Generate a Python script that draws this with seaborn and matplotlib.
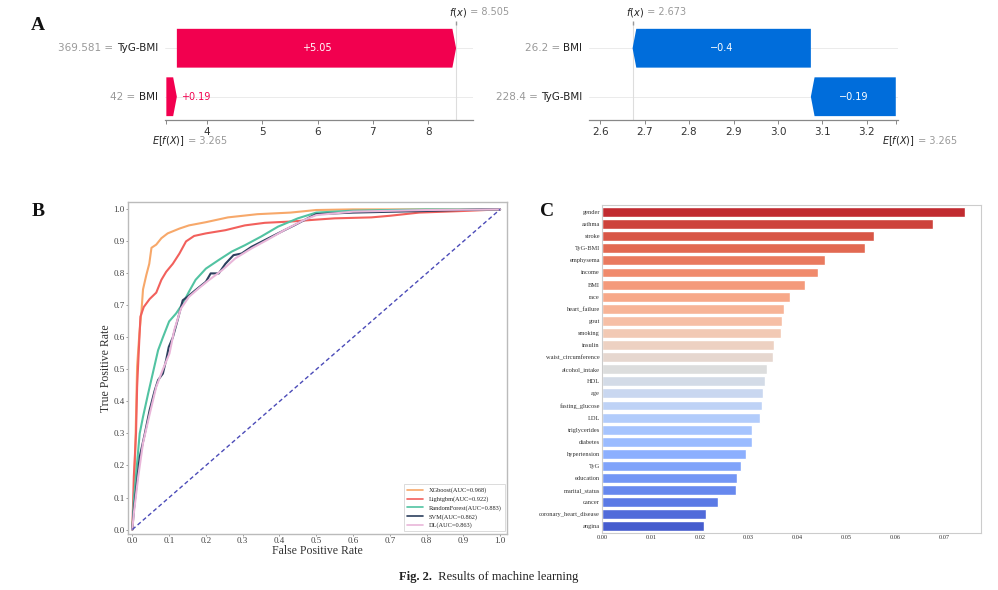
import matplotlib
matplotlib.use("Agg")
import matplotlib.pyplot as plt
from matplotlib.patches import Polygon
from matplotlib.ticker import FormatStrFormatter
import numpy as np
import pandas as pd
import seaborn as sns

sns.set_theme(style="white")
plt.rcParams['font.family'] = ['DejaVu Sans']
SERIF = 'Liberation Serif'

# ─── DATA ────────────────────────────────────────────────────────────────
# Panel A, left waterfall (rows top -> bottom)
A1_FEATURES = ["TyG-BMI", "BMI"]
A1_VALUES = ["369.581", "42"]
A1_SHAP = [5.05, 0.19]
A1_BASE = 3.265
A1_FX = 8.505
A1_TICKS = [4, 5, 6, 7, 8]

# Panel A, right waterfall
A2_FEATURES = ["BMI", "TyG-BMI"]
A2_VALUES = ["26.2", "228.4"]
A2_SHAP = [-0.401, -0.191]
A2_BASE = 3.265
A2_FX = 2.673
A2_TICKS = [2.6, 2.7, 2.8, 2.9, 3.0, 3.1, 3.2]

# Panel B, ROC curves
MODELS = ["XGboost(AUC=0.968)", "Lightgbm(AUC=0.922)", "RandomForest(AUC=0.883)",
          "SVM(AUC=0.862)", "DL(AUC=0.863)"]
XGB_FPR = [0, 0.004, 0.009, 0.013, 0.019, 0.025, 0.029, 0.038, 0.046, 0.052, 0.065, 0.079,
           0.096, 0.128, 0.154, 0.20, 0.26, 0.34, 0.43, 0.50, 0.60, 0.80, 1.0]
XGB_TPR = [0, 0.09, 0.30, 0.51, 0.61, 0.685, 0.75, 0.795, 0.83, 0.88, 0.89, 0.91,
           0.925, 0.94, 0.95, 0.96, 0.975, 0.985, 0.99, 0.998, 1.0, 1.0, 1.0]
LGB_FPR = [0, 0.004, 0.010, 0.013, 0.018, 0.022, 0.031, 0.047, 0.065, 0.079, 0.092, 0.110,
           0.128, 0.146, 0.168, 0.20, 0.253, 0.306, 0.36, 0.43, 0.50, 0.55, 0.65, 0.70,
           0.78, 0.90, 1.0]
LGB_TPR = [0, 0.165, 0.30, 0.446, 0.57, 0.665, 0.695, 0.72, 0.74, 0.78, 0.805, 0.83,
           0.862, 0.90, 0.917, 0.925, 0.935, 0.95, 0.958, 0.962, 0.968, 0.972, 0.975, 0.98,
           0.99, 0.995, 1.0]
RF_FPR = [0, 0.004, 0.012, 0.020, 0.029, 0.043, 0.056, 0.070, 0.083, 0.10, 0.119, 0.137,
          0.154, 0.172, 0.20, 0.235, 0.27, 0.306, 0.35, 0.396, 0.45, 0.50, 0.60, 0.80, 1.0]
RF_TPR = [0, 0.09, 0.196, 0.30, 0.352, 0.425, 0.49, 0.56, 0.60, 0.65, 0.675, 0.706,
          0.743, 0.78, 0.815, 0.842, 0.868, 0.888, 0.915, 0.946, 0.972, 0.99, 0.996, 1.0, 1.0]
SVM_FPR = [0, 0.004, 0.012, 0.020, 0.034, 0.047, 0.061, 0.070, 0.083, 0.092, 0.099, 0.110,
           0.123, 0.137, 0.150, 0.172, 0.20, 0.213, 0.235, 0.253, 0.275, 0.297, 0.324, 0.36,
           0.396, 0.44, 0.485, 0.50, 0.60, 0.80, 0.95, 1.0]
SVM_TPR = [0, 0.06, 0.144, 0.227, 0.30, 0.373, 0.435, 0.467, 0.487, 0.53, 0.57, 0.60,
           0.654, 0.716, 0.727, 0.748, 0.774, 0.80, 0.80, 0.83, 0.857, 0.862, 0.883, 0.904,
           0.925, 0.95, 0.977, 0.985, 0.99, 0.995, 1.0, 1.0]
DL_FPR = [0, 0.004, 0.016, 0.029, 0.047, 0.065, 0.083, 0.101, 0.114, 0.132, 0.154, 0.18,
          0.208, 0.244, 0.28, 0.324, 0.369, 0.413, 0.467, 0.50, 0.60, 0.80, 1.0]
DL_TPR = [0, 0.05, 0.165, 0.27, 0.36, 0.446, 0.50, 0.55, 0.623, 0.69, 0.727, 0.753,
          0.779, 0.81, 0.847, 0.878, 0.906, 0.935, 0.967, 0.982, 0.993, 0.998, 1.0]
DIAG = [0, 1]
ROC_COLORS = ["#f7a86a", "#f2605c", "#52c3a2", "#2c3f5e", "#e9b6d9"]

# Panel C, feature importance
FEATURES = ["gender", "asthma", "stroke", "TyG-BMI", "emphysema", "income", "BMI", "race",
            "heart_failure", "gout", "smoking", "insulin", "waist_circumference",
            "alcohol_intake", "HDL", "age", "fasting_glucose", "LDL", "triglycerides",
            "diabetes", "hypertension", "TyG", "education", "marital_status", "cancer",
            "coronary_heart_disease", "angina"]
IMPORTANCE = [0.0742, 0.0677, 0.0556, 0.0538, 0.0455, 0.0442, 0.0415, 0.0384,
              0.0372, 0.0369, 0.0365, 0.0351, 0.0349, 0.0337, 0.0333, 0.0329,
              0.0328, 0.0323, 0.0307, 0.0306, 0.0294, 0.0284, 0.0276, 0.0275,
              0.0238, 0.0212, 0.0208]

RED = "#f2004f"
BLUE = "#006ddb"


def fmt_shap(v):
    s = f"{v:+.2f}".rstrip("0").rstrip(".")
    return s.replace("-", "\u2212")


def waterfall(ax, feats, vals, shap, base, fx, xlim, ticks):
    n = len(feats)
    rows = np.arange(n)[::-1]
    span = xlim[1] - xlim[0]
    head = 0.012 * span
    ax.set_xlim(*xlim)
    ax.set_ylim(-0.48, n - 0.48)
    for y in rows:
        ax.axhline(y, color="#e8e8e8", lw=0.6, zorder=0)
    ax.axvline(fx, color="#dddddd", lw=0.8, zorder=0)
    pos = base
    for i in range(n - 1, -1, -1):
        v = shap[i]
        y = rows[i]
        s, e = pos, pos + v
        d = np.sign(v)
        hl = min(head, abs(v) * 0.5)
        pts = [(s, y - 0.4), (e - d * hl, y - 0.4), (e, y), (e - d * hl, y + 0.4), (s, y + 0.4)]
        col = RED if v > 0 else BLUE
        ax.add_patch(Polygon(pts, closed=True, facecolor=col, edgecolor="none", zorder=2))
        if abs(v) > 0.1 * span:
            ax.text((s + e) / 2, y, fmt_shap(v), color="white", fontsize=7,
                    ha="center", va="center", zorder=3)
        else:
            ax.annotate(fmt_shap(v), xy=(e, y), xytext=(4 * d, 0), textcoords="offset pixels",
                        color=col, fontsize=7, ha="left" if v > 0 else "right", va="center")
        pos = e
    # row labels
    for i in range(n):
        t = ax.annotate(feats[i], xy=(0, rows[i]), xycoords=("axes fraction", "data"),
                        xytext=(-7, 0), textcoords="offset pixels", ha="right", va="center",
                        fontsize=7.5, color="#222222")
        ax.annotate(vals[i] + " = ", xy=(0, 0.5), xycoords=t, ha="right", va="center",
                    fontsize=7.5, color="#999999")
    # f(x) on top
    t = ax.annotate("$f(x)$", xy=(fx, 1), xycoords=("data", "axes fraction"),
                    xytext=(-7, 11), textcoords="offset pixels", ha="left", va="center",
                    fontsize=7, color="#222222")
    ax.annotate(" = " + f"{fx:.3f}", xy=(1, 0.5), xycoords=t, ha="left", va="center",
                fontsize=7, color="#999999")
    ax.plot([fx], [1], marker="|", color="#999999", ms=3, transform=ax.get_xaxis_transform(),
            clip_on=False)
    # E[f(X)] below
    t = ax.annotate("$E[f(X)]$", xy=(base, 0), xycoords=("data", "axes fraction"),
                    xytext=(-14, -21), textcoords="offset pixels", ha="left", va="center",
                    fontsize=7, color="#222222")
    ax.annotate(" = " + f"{base:.3f}", xy=(1, 0.5), xycoords=t, ha="left", va="center",
                fontsize=7, color="#999999")
    ax.set_xticks(ticks)
    ax.set_xticklabels([f"{tk:g}" if span > 2 else f"{tk:.1f}" for tk in ticks])
    ax.set_xticks([base], minor=True)
    ax.set_yticks([])
    for sp in ["left", "right", "top"]:
        ax.spines[sp].set_visible(False)
    ax.spines["bottom"].set_color("#888888")
    ax.spines["bottom"].set_linewidth(0.9)
    ax.tick_params(axis="x", which="both", bottom=True, length=3, width=0.7,
                   color="#888888", labelsize=7.5, labelcolor="#333333", pad=2)
    ax.set_facecolor("none")


fig = plt.figure(figsize=(9.98, 5.9), dpi=100)

# ─── A ───────────────────────────────────────────────────────────────────
ax1 = fig.add_axes([0.1653, 0.7966, 0.3086, 0.1644])
waterfall(ax1, A1_FEATURES, A1_VALUES, A1_SHAP, A1_BASE, A1_FX, (3.24, 8.81), A1_TICKS)
ax2 = fig.add_axes([0.5902, 0.7966, 0.3096, 0.1644])
waterfall(ax2, A2_FEATURES, A2_VALUES, A2_SHAP, A2_BASE, A2_FX, (2.575, 3.27), A2_TICKS)

# ─── B ───────────────────────────────────────────────────────────────────
roc = pd.concat([
    pd.DataFrame({"fpr": f, "tpr": t, "model": m})
    for f, t, m in zip([XGB_FPR, LGB_FPR, RF_FPR, SVM_FPR, DL_FPR],
                       [XGB_TPR, LGB_TPR, RF_TPR, SVM_TPR, DL_TPR], MODELS)
], ignore_index=True)
axb = fig.add_axes([0.1283, 0.0949, 0.3798, 0.5627])
sns.lineplot(data=roc, x="fpr", y="tpr", hue="model", hue_order=MODELS,
             palette=dict(zip(MODELS, ROC_COLORS)), sort=False, estimator=None,
             linewidth=1.5, ax=axb)
axb.plot(DIAG, DIAG, color="#4b4bb8", lw=1.0, ls=(0, (3, 2)))
axb.set_xlim(-0.0117, 1.019)
axb.set_ylim(-0.014, 1.023)
axb.set_xticks(np.round(np.arange(0, 1.01, 0.1), 1))
axb.set_yticks(np.round(np.arange(0, 1.01, 0.1), 1))
axb.xaxis.set_major_formatter(FormatStrFormatter("%.1f"))
axb.yaxis.set_major_formatter(FormatStrFormatter("%.1f"))
axb.set_xlabel("False Positive Rate", family=SERIF, fontsize=8.5, labelpad=0, color="#333333")
axb.set_ylabel("True Positive Rate", family=SERIF, fontsize=8.5, labelpad=1, color="#333333")
for lab in axb.get_xticklabels() + axb.get_yticklabels():
    lab.set_family(SERIF)
axb.tick_params(labelsize=6.5, length=1.5, width=0.6, color="#888888", labelcolor="#444444",
                bottom=True, left=True, pad=1)
for sp in axb.spines.values():
    sp.set_color("#bbbbbb")
    sp.set_linewidth(1.0)
leg = axb.legend(loc="lower right", prop={"family": SERIF, "size": 4.6}, frameon=True,
                 handlelength=2.6, borderaxespad=0.4, labelspacing=0.45, borderpad=0.5,
                 edgecolor="#cccccc", fancybox=False)
leg.get_frame().set_linewidth(0.6)
for line in leg.get_lines():
    line.set_linewidth(1.2)

# ─── C ───────────────────────────────────────────────────────────────────
imp = pd.DataFrame({"feature": FEATURES, "importance": IMPORTANCE})
axc = fig.add_axes([0.6032, 0.0966, 0.3798, 0.5559])
sns.barplot(data=imp, x="importance", y="feature", hue="feature", palette="coolwarm_r",
            saturation=1, legend=False, width=0.82, ax=axc)
axc.set_xlim(0, 0.0775)
axc.set_ylim(26.55, -0.58)
axc.set_xlabel("")
axc.set_ylabel("")
axc.set_xticks(np.round(np.arange(0, 0.071, 0.01), 2))
axc.xaxis.set_major_formatter(FormatStrFormatter("%.2f"))
for lab in axc.get_xticklabels() + axc.get_yticklabels():
    lab.set_family(SERIF)
axc.tick_params(labelsize=4.6, length=0, pad=1.5, labelcolor="#333333")
for sp in axc.spines.values():
    sp.set_color("#cccccc")
    sp.set_linewidth(0.8)

# ─── Letters and caption ─────────────────────────────────────────────────
for letter, x, y in [("A", 38 / 998, 1 - 25 / 590), ("B", 38 / 998, 1 - 212 / 590),
                     ("C", 547 / 998, 1 - 212 / 590)]:
    fig.text(x, y, letter, family=SERIF, fontsize=14, fontweight="bold", ha="center",
             va="center", color="#111111")

cap = fig.text(399 / 998, 1 - 577 / 590, "Fig. 2.", family=SERIF, fontsize=9,
               fontweight="bold", ha="left", va="center", color="#222222")
ax1.annotate("  Results of machine learning", xy=(1, 0.5), xycoords=cap,
             ha="left", va="center", family=SERIF, fontsize=9, color="#222222",
             annotation_clip=False)

fig.savefig("out.png", dpi=100)
